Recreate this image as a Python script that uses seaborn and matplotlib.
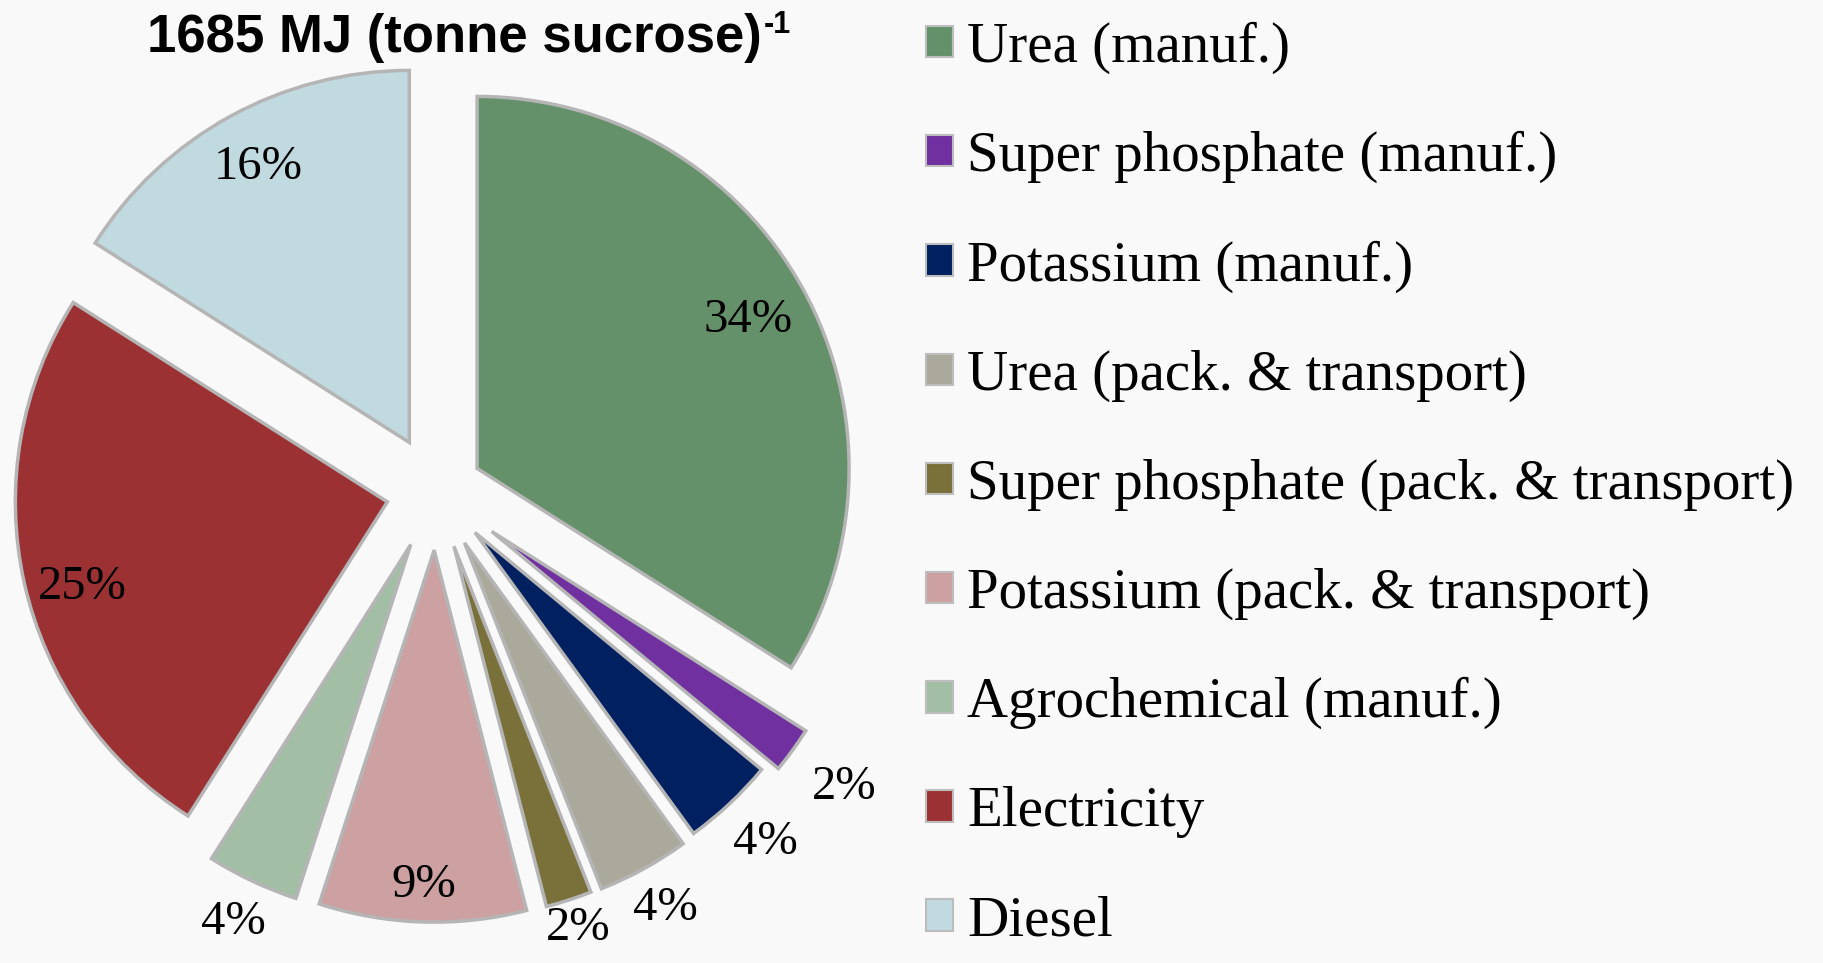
import matplotlib
matplotlib.use("Agg")
import matplotlib.pyplot as plt
import matplotlib.patches as mpatches
import numpy as np
import seaborn as sns

# slices, clockwise from 12 o'clock
categories = ["Urea (manuf.)", "Super phosphate (manuf.)", "Potassium (manuf.)",
              "Urea (pack. & transport)", "Super phosphate (pack. & transport)",
              "Potassium (pack. & transport)", "Agrochemical (manuf.)",
              "Electricity", "Diesel"]
shares = [34, 2, 4, 4, 2, 9, 4, 25, 16]
title_main = "1685 MJ (tonne sucrose)"
title_sup = "-1"

colors = ["#64916a", "#7030a0", "#002060", "#aaa99b", "#7a703a",
          "#cda0a1", "#a2bfa6", "#9b3133", "#c1dae0"]
explode = [0.126, 0.185, 0.153, 0.159, 0.156, 0.159, 0.159, 0.134, 0.149]
# label distance from each slice's tip, in radii
label_dist = [0.83, 1.17, 1.14, 1.12, 1.08, 0.9, 1.12, 0.85, 0.845]

sns.set_theme(style="white")
plt.rcParams["font.family"] = ["Liberation Serif", "DejaVu Serif"]
plt.rcParams["text.color"] = "black"

W, H = 1823, 963
fig = plt.figure(figsize=(W / 100, H / 100), dpi=100, facecolor="#f9f9f9")
ax = fig.add_axes([0, 0, 1, 1])
ax.set_facecolor("none")

palette = sns.color_palette(colors)
wedges, _ = ax.pie(shares, colors=palette, startangle=90, counterclock=False,
                   explode=explode, radius=1,
                   wedgeprops=dict(edgecolor="#b5b5b5", linewidth=2.5))

for w, v, d in zip(wedges, shares, label_dist):
    mid = (w.theta1 + w.theta2) / 2
    if v == 25:
        mid += 3
    ang = np.deg2rad(mid)
    x = w.center[0] + d * w.r * np.cos(ang)
    y = w.center[1] + d * w.r * np.sin(ang)
    ax.text(x, y, f"{v}%", ha="center", va="center", fontsize=35, color="black")

# pie centre at (436, 491) px, radius 372 px
R = 372.0
cx, cy = 436, H - 491
ax.set_xlim(-cx / R, (W - cx) / R)
ax.set_ylim(-cy / R, (H - cy) / R)
ax.set_aspect("equal")
ax.axis("off")

# title with superscript
t = fig.text(454 / W, 1 - 52 / H, title_main, ha="center", va="baseline",
             fontsize=38, fontweight="bold", family="Liberation Sans", color="black")
ax.annotate(title_sup, xy=(1, 1), xycoords=t, xytext=(2, 2), textcoords="offset points",
            ha="left", va="top", fontsize=22, fontweight="bold", family="Liberation Sans",
            color="black")

handles = [mpatches.Patch(facecolor=c, edgecolor="#bdbdbd", linewidth=1.5) for c in colors]
leg = fig.legend(handles, categories, loc="center left", bbox_to_anchor=(926 / W, 0.497),
                 frameon=False, fontsize=41, handlelength=0.47, handleheight=0.47,
                 handletextpad=0.25, labelspacing=1.0, borderpad=0, borderaxespad=0)
for txt in leg.get_texts():
    txt.set_color("black")

fig.savefig("out.png", dpi=100, facecolor=fig.get_facecolor())
